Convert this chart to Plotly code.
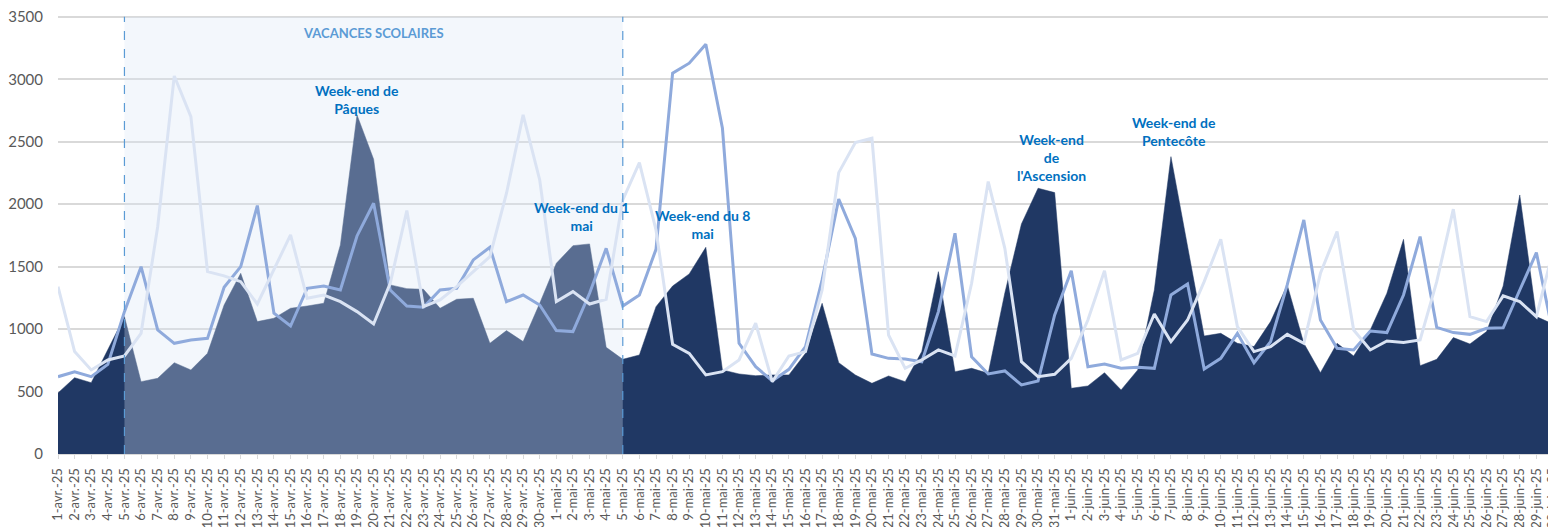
import plotly.graph_objects as go

dates = (
    [f"{d}-avr.-25" for d in range(1, 31)]
    + [f"{d}-mai-25" for d in range(1, 32)]
    + [f"{d}-juin-25" for d in range(1, 31)]
)

v2025 = [489, 611, 571, 830, 1100, 579, 606, 731, 673, 806,
         1193, 1447, 1060, 1087, 1167, 1185, 1207, 1674, 2715, 2360,
         1354, 1324, 1319, 1167, 1239, 1247, 886, 988, 900, 1207,
         1527, 1668, 1682, 854, 758, 793, 1180, 1345, 1442, 1655,
         673, 641, 627, 633, 633, 806, 1207, 731, 633, 566,
         625, 579, 820, 1460, 659, 686, 646, 1290, 1842, 2128,
         2093, 526, 545, 651, 513, 673, 1313, 2381, 1674, 945,
         966, 886, 860, 1060, 1354, 886, 651, 886, 785, 993,
         1287, 1719, 707, 758, 932, 881, 980, 1345, 2074, 1100,
         1040]

v2024 = [619, 659, 619, 718, 1140, 1500, 993, 886, 913, 926,
         1335, 1500, 1989, 1127, 1025, 1327, 1345, 1313, 1746, 2008,
         1313, 1185, 1175, 1313, 1327, 1554, 1655, 1220, 1273, 1193,
         988, 980, 1287, 1647, 1185, 1273, 1639, 3049, 3129, 3281,
         2608, 886, 699, 585, 678, 860, 1394, 2042, 1727, 801,
         766, 761, 739, 1140, 1767, 779, 641, 665, 553, 585,
         1113, 1468, 699, 721, 686, 694, 686, 1273, 1362, 681,
         766, 966, 731, 900, 1354, 1874, 1073, 846, 833, 985,
         972, 1273, 1741, 1014, 972, 958, 1006, 1011, 1313, 1612,
         966]

v2023 = [1340, 820, 673, 753, 785, 966, 1820, 3027, 2701, 1460,
         1426, 1380, 1201, 1474, 1754, 1247, 1273, 1220, 1140, 1041,
         1367, 1949, 1180, 1233, 1340, 1460, 1580, 2088, 2715, 2194,
         1220, 1300, 1201, 1239, 2034, 2333, 1794, 878, 806, 633,
         659, 753, 1047, 579, 785, 820, 1313, 2253, 2493, 2528,
         953, 686, 753, 833, 785, 1367, 2181, 1647, 739, 619,
         638, 766, 1073, 1468, 753, 806, 1121, 900, 1073, 1380,
         1719, 1020, 820, 860, 958, 886, 1447, 1781, 993, 833,
         905, 892, 913, 1380, 1960, 1100, 1060, 1266, 1220, 1100,
         1628]

series_names = ["2025", "2024", "2023"]
vacation_start = "5-avr.-25"
vacation_end = "5-mai-25"
y_max = 3500

annotations_text = [
    ("VACANCES SCOLAIRES", 19.0, 3372, "#5B9BD5", 13),
    ("Week-end de<br>Pâques", 18.0, 2835, "#0070C0", 14),
    ("Week-end du 1<br>mai", 31.5, 1898, "#0070C0", 14),
    ("Week-end du 8<br>mai", 38.8, 1838, "#0070C0", 14),
    ("Week-end<br>de<br>l'Ascension", 59.8, 2371, "#0070C0", 14),
    ("Week-end de<br>Pentecôte", 67.2, 2583, "#0070C0", 14),
]

NAVY = "#203864"
MID = "#8FAADC"
LIGHT = "#DAE3F3"
FONT = "Lato"

fig = go.Figure()

fig.add_trace(go.Scatter(
    x=dates, y=v2025, name=series_names[0], mode="lines",
    line=dict(color=NAVY, width=0.5), fill="tozeroy", fillcolor=NAVY,
    showlegend=False,
))

i0 = dates.index(vacation_start)
i1 = dates.index(vacation_end)
fig.add_trace(go.Scatter(
    x=[dates[i0], dates[i0], dates[i1], dates[i1], dates[i0]],
    y=[0, y_max, y_max, 0, 0],
    mode="lines", line=dict(width=0), fill="toself",
    fillcolor="rgba(217,230,245,0.31)", showlegend=False, hoverinfo="skip",
))

fig.add_trace(go.Scatter(
    x=dates, y=v2024, name=series_names[1], mode="lines",
    line=dict(color=MID, width=3), showlegend=False,
))
fig.add_trace(go.Scatter(
    x=dates, y=v2023, name=series_names[2], mode="lines",
    line=dict(color=LIGHT, width=3), showlegend=False,
))

# legend entries (square swatches, as in the original)
for nm, col in zip(series_names, [NAVY, MID, LIGHT]):
    fig.add_trace(go.Scatter(
        x=[None], y=[None], name=nm, mode="markers",
        marker=dict(symbol="square", size=10, color=col), showlegend=True,
    ))

for xv in (vacation_start, vacation_end):
    fig.add_shape(type="line", xref="x", yref="y", x0=xv, x1=xv, y0=0, y1=y_max,
                  line=dict(color="#5B9BD5", width=1.2, dash="dash"), layer="above")

for txt, xx, yy, col, sz in annotations_text:
    fig.add_annotation(x=xx, y=yy, xref="x", yref="y", text=f"<b>{txt}</b>",
                       showarrow=False, font=dict(family=FONT, size=sz, color=col),
                       align="center")

fig.update_layout(
    width=1556, height=527,
    margin=dict(l=50, r=11, t=7, b=81, autoexpand=False),
    paper_bgcolor="white", plot_bgcolor="white",
    font=dict(family=FONT, color="#595959"),
    showlegend=True,
    legend=dict(orientation="h", x=0.852, y=1.055, xanchor="left", yanchor="middle",
                font=dict(size=14, color="#595959"), bgcolor="rgba(0,0,0,0)",
                itemwidth=30, tracegroupgap=0),
    xaxis=dict(
        type="category", range=[0, len(dates) - 1],
        tickmode="array", tickvals=dates, ticktext=dates, tickangle=-90,
        tickfont=dict(size=13, color="#595959", family=FONT),
        showgrid=False, showline=True, linecolor="#D9D9D9", linewidth=1,
        ticks="outside", ticklen=4, tickcolor="#D9D9D9",
        zeroline=False, ticklabelstandoff=4, ticklabeloverflow="allow",
    ),
    yaxis=dict(
        range=[0, y_max + 15], dtick=500, tick0=0,
        showgrid=True, gridcolor="#D9D9D9", gridwidth=1.5,
        zeroline=False, showline=False,
        tickfont=dict(size=15, color="#595959", family=FONT),
        ticklabelstandoff=14, ticklabeloverflow="allow",
    ),
)

fig.write_html("out.html")
